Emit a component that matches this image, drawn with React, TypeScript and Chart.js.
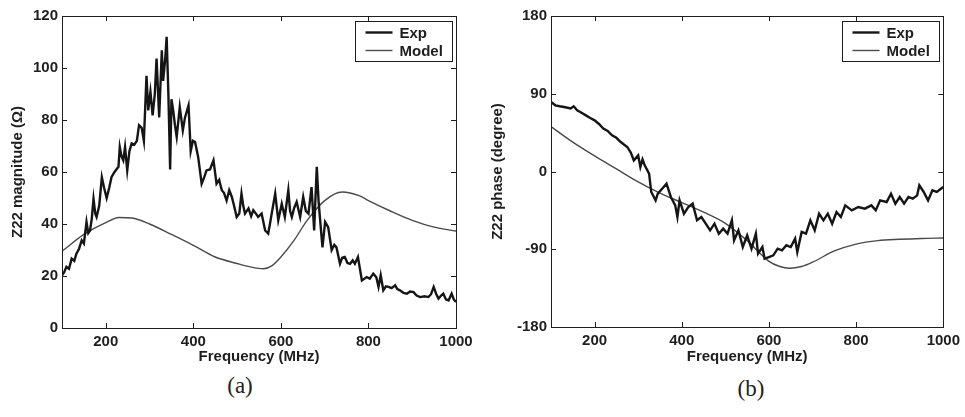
import React, { useEffect, useRef } from 'react';
import { Chart, registerables } from 'chart.js';
Chart.register(...registerables);

const freqTicks = [200, 400, 600, 800, 1000];
const magTicks = [0, 20, 40, 60, 80, 100, 120];
const phaseTicks = [-180, -90, 0, 90, 180];
const seriesLabels = ['Exp', 'Model'];
const panelLabels = ['(a)', '(b)'];
const magTitle = 'Z22 magnitude (\u03A9)';
const phaseTitle = 'Z22 phase (degree)';
const freqTitle = 'Frequency (MHz)';

const expMagFreq = [100, 105, 110, 116, 122, 128, 133, 139, 145, 150, 156, 160, 164, 168, 172, 176, 179, 185, 191, 196, 202, 208, 213, 220, 229, 232, 236, 240, 244, 249, 254, 259, 265, 271, 276, 282, 287, 293, 297, 302, 307, 312, 316, 322, 328, 331, 336, 339, 343, 347, 350, 354, 358, 362, 369, 376, 381, 389, 394, 399, 404, 411, 419, 425, 430, 438, 446, 453, 459, 465, 470, 476, 482, 488, 493, 499, 505, 510, 514, 518, 526, 532, 537, 543, 548, 556, 564, 571, 575, 579, 587, 594, 602, 609, 617, 621, 625, 630, 636, 644, 651, 657, 663, 670, 676, 679, 682, 686, 691, 695, 701, 708, 716, 722, 727, 735, 740, 746, 752, 758, 764, 769, 776, 785, 796, 803, 811, 818, 823, 828, 834, 840, 846, 853, 861, 866, 872, 880, 888, 895, 903, 910, 918, 928, 937, 943, 949, 955, 960, 966, 971, 977, 983, 990, 995, 1000];
const expMagVal = [20.3, 21.5, 23.5, 22.8, 26.7, 25.8, 28.6, 30.5, 33.7, 32.5, 40.8, 36.5, 37.5, 42, 49.7, 44, 42.7, 47, 58, 54, 50, 54, 58, 60, 62, 69.6, 66, 64.5, 69.6, 60.6, 68, 71, 70.5, 72, 78, 77, 72, 97, 83.7, 90.8, 81.8, 90, 103.6, 81, 106.8, 95, 104, 112, 90, 61, 88, 83.7, 78, 73.5, 85, 76, 81, 85.6, 68, 72, 71.5, 65.8, 55.5, 58, 60.6, 61, 64.5, 55.5, 57, 53, 52, 49, 53, 50.4, 47, 42.7, 44, 51.7, 47, 44, 46, 43, 45.3, 44, 42.7, 44, 37.5, 36.3, 40, 44, 51.7, 41.4, 47.8, 42.7, 53, 45, 42.7, 46, 48.5, 42.7, 50.4, 45, 44, 54.2, 37.5, 50, 62, 49, 38.8, 31, 40.8, 38.8, 30, 32, 31, 24.7, 27, 27.3, 25, 24.7, 26, 24.7, 27.3, 18.3, 19.6, 19, 20.9, 19.5, 15.8, 20.3, 14.5, 16, 15.8, 15.3, 16.4, 15, 14.5, 13.5, 13.2, 14, 13.8, 12.5, 11.9, 12.2, 11.9, 13, 15.8, 13, 11.3, 12.5, 13.2, 11, 10.6, 13.2, 11, 10];

const modelMagFreq = [100, 150, 200, 230, 260, 300, 350, 400, 450, 500, 530, 560, 580, 600, 630, 660, 700, 740, 780, 800, 850, 900, 950, 1000];
const modelMagVal = [29.5, 36, 40.5, 42.5, 42.3, 40, 36, 31.8, 27.3, 24.8, 23.5, 22.8, 24, 27.3, 33.7, 41.4, 49, 52.3, 50.8, 49, 45, 41.4, 38.8, 37.3];

const expPhaseFreq = [100, 110, 120, 130, 145, 152, 160, 170, 180, 190, 200, 210, 220, 230, 240, 250, 260, 268, 275, 283, 290, 300, 305, 310, 315, 325, 330, 340, 345, 355, 365, 375, 385, 390, 395, 405, 415, 425, 435, 445, 455, 465, 475, 485, 495, 505, 515, 520, 530, 540, 550, 560, 570, 575, 585, 590, 600, 610, 620, 630, 640, 650, 660, 665, 675, 685, 695, 705, 715, 725, 735, 745, 755, 765, 775, 790, 805, 820, 835, 845, 855, 870, 880, 890, 900, 910, 920, 930, 940, 945, 955, 965, 975, 985, 1000];
const expPhaseVal = [80.4, 76.6, 75.5, 74.7, 73, 75.5, 70.8, 68, 65, 62, 59.2, 55, 49.6, 47, 41.9, 39, 34.1, 31, 28.4, 22, 12.9, 18.7, 5.2, 14, 7.1, -2.5, -23.7, -33.4, -25.7, -19.9, -14.1, -29.5, -39.2, -52.7, -33.4, -48.8, -41.1, -37.2, -56.5, -52.7, -60.4, -68.1, -60.4, -72, -66.2, -72, -56.5, -79.7, -68.1, -87.4, -73.9, -89.3, -72, -95.1, -87.4, -100.9, -99, -97, -89.3, -91.2, -85.4, -87.4, -77.7, -93.2, -70, -72, -56.5, -68.1, -48.8, -56.5, -48.8, -60.4, -46.9, -52.7, -39.2, -45, -41.1, -43, -39.2, -45, -33.4, -35.3, -25.7, -37.2, -29.5, -37.2, -29.5, -31.4, -27.6, -16, -23.7, -33.4, -21.8, -23.7, -17.9];

const modelPhaseFreq = [100, 150, 200, 250, 300, 350, 400, 450, 500, 550, 600, 625, 647, 675, 700, 750, 800, 850, 900, 950, 1000];
const modelPhaseVal = [52, 34, 18, 3, -12, -25, -36, -47, -60, -80, -104, -110, -112, -110, -105, -92, -84, -80, -78.5, -77.5, -77];

const FAMILY = 'Liberation Sans, Arial, sans-serif';
const FONT = { family: FAMILY, size: 15, weight: 'bold' as const };
const INK = '#1e1e1e';

function pts(xs: number[], ys: number[]) {
  return xs.map((x, i) => ({ x, y: ys[i] }));
}

const framePlugin = {
  id: 'frameTicks',
  afterDraw(chart: any) {
    const { ctx, chartArea: a, scales } = chart;
    ctx.save();
    ctx.strokeStyle = INK;
    ctx.lineWidth = 1;
    ctx.strokeRect(Math.round(a.left) + 0.5, Math.round(a.top) + 0.5, Math.round(a.right - a.left), Math.round(a.bottom - a.top));
    const L = 5;
    ctx.beginPath();
    scales.x.ticks.forEach((t: any) => {
      const px = Math.round(scales.x.getPixelForValue(t.value)) + 0.5;
      ctx.moveTo(px, a.bottom); ctx.lineTo(px, a.bottom - L);
      ctx.moveTo(px, a.top); ctx.lineTo(px, a.top + L);
    });
    scales.y.ticks.forEach((t: any) => {
      const py = Math.round(scales.y.getPixelForValue(t.value)) + 0.5;
      ctx.moveTo(a.left, py); ctx.lineTo(a.left + L, py);
      ctx.moveTo(a.right, py); ctx.lineTo(a.right - L, py);
    });
    ctx.stroke();
    // legend box
    const bw = 97, bh = 40;
    const bx = Math.round(a.right - 4 - bw) + 0.5;
    const by = Math.round(a.top + 5) + 0.5;
    ctx.fillStyle = '#fff';
    ctx.fillRect(bx, by, bw, bh);
    ctx.strokeRect(bx, by, bw, bh);
    ctx.font = `bold 15px ${FAMILY}`;
    ctx.textBaseline = 'middle';
    chart.data.datasets.forEach((ds: any, i: number) => {
      const y = by + 11 + i * 18;
      ctx.strokeStyle = ds.borderColor;
      ctx.lineWidth = ds.borderWidth;
      ctx.beginPath();
      ctx.moveTo(bx + 10, y); ctx.lineTo(bx + 37, y);
      ctx.stroke();
      ctx.fillStyle = INK;
      ctx.fillText(ds.label, bx + 44, y + 1);
    });
    ctx.restore();
  },
};

function makeConfig(opts: {
  exp: { x: number; y: number }[];
  model: { x: number; y: number }[];
  yTicks: number[];
  yTitle: string;
  yWidth: number;
  xHeight: number;
  padRight: number;
  yPadTitle: number;
}) {
  return {
    type: 'line' as const,
    data: {
      datasets: [
        { label: seriesLabels[0], data: opts.exp, borderColor: '#151515', borderWidth: 2.4, pointRadius: 0, tension: 0, fill: false },
        { label: seriesLabels[1], data: opts.model, borderColor: '#4a4a4a', borderWidth: 1.4, pointRadius: 0, cubicInterpolationMode: 'monotone' as const, fill: false },
      ],
    },
    options: {
      animation: false as const,
      responsive: false,
      maintainAspectRatio: false,
      parsing: false as const,
      layout: { padding: { left: 0, right: opts.padRight, top: 16, bottom: 0 } },
      plugins: { legend: { display: false }, tooltip: { enabled: false } },
      scales: {
        x: {
          type: 'linear' as const,
          min: 100,
          max: 1000,
          grid: { display: false, drawTicks: false },
          border: { display: false },
          ticks: { font: FONT, color: INK, padding: 5, maxRotation: 0, callback: (v: any) => String(v) },
          afterBuildTicks: (s: any) => { s.ticks = freqTicks.map((v) => ({ value: v })); },
          afterFit: (s: any) => { s.height = opts.xHeight; },
          title: { display: true, text: freqTitle, font: FONT, color: INK, padding: { top: 0, bottom: 6 } },
        },
        y: {
          type: 'linear' as const,
          min: opts.yTicks[0],
          max: opts.yTicks[opts.yTicks.length - 1],
          grid: { display: false, drawTicks: false },
          border: { display: false },
          ticks: { font: FONT, color: INK, padding: 4, callback: (v: any) => String(v) },
          afterBuildTicks: (s: any) => { s.ticks = opts.yTicks.map((v) => ({ value: v })); },
          afterFit: (s: any) => { s.width = opts.yWidth; },
          title: { display: true, text: opts.yTitle, font: FONT, color: INK, padding: { top: opts.yPadTitle, bottom: 0 } },
        },
      },
    },
    plugins: [framePlugin],
  };
}

function Panel(props: { cfg: any; left: number; width: number; height: number }) {
  const ref = useRef<HTMLCanvasElement | null>(null);
  useEffect(() => {
    if (!ref.current) return;
    const chart = new Chart(ref.current, props.cfg);
    return () => chart.destroy();
  }, []);
  return (
    <canvas
      ref={ref}
      width={props.width}
      height={props.height}
      style={{ position: 'absolute', left: props.left, top: 0, width: props.width, height: props.height }}
    />
  );
}

export default function App() {
  const cfgA = makeConfig({
    exp: pts(expMagFreq, expMagVal),
    model: pts(modelMagFreq, modelMagVal),
    yTicks: magTicks,
    yTitle: magTitle,
    yWidth: 62,
    xHeight: 44,
    padRight: 24,
    yPadTitle: 9,
  });
  const cfgB = makeConfig({
    exp: pts(expPhaseFreq, expPhaseVal),
    model: pts(modelPhaseFreq, modelPhaseVal),
    yTicks: phaseTicks,
    yTitle: phaseTitle,
    yWidth: 71,
    xHeight: 45,
    padRight: 21,
    yPadTitle: 9,
  });
  const labelStyle: React.CSSProperties = {
    position: 'absolute',
    fontFamily: '"Liberation Serif", "DejaVu Serif", serif',
    fontSize: 23,
    color: '#222',
    transform: 'translate(-50%, -50%)',
    lineHeight: 1,
  };
  return (
    <div style={{ position: 'fixed', left: 0, top: 0, width: 965, height: 417, background: '#fff', overflow: 'hidden' }}>
      <Panel cfg={cfgA} left={0} width={480} height={372} />
      <Panel cfg={cfgB} left={480} width={485} height={372} />
      <div style={{ ...labelStyle, left: 240, top: 385 }}>{panelLabels[0]}</div>
      <div style={{ ...labelStyle, left: 751, top: 388 }}>{panelLabels[1]}</div>
    </div>
  );
}
